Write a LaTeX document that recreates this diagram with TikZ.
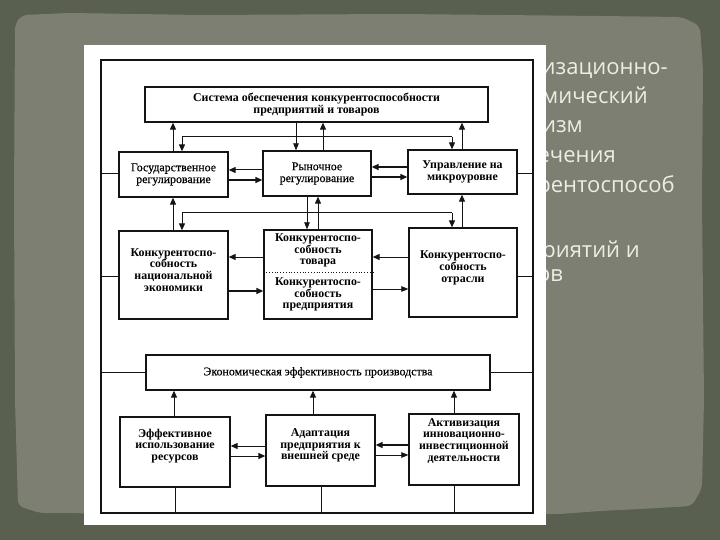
\documentclass[tikz,border=0pt]{standalone}
\usepackage{fontspec}
\setmainfont{Liberation Serif}
\newfontfamily\heavy{Liberation Serif}[FakeBold=0.4]
\newfontfamily\slidefont{Open Sans}
\usetikzlibrary{arrows.meta}
\definecolor{darkbg}{HTML}{596050}
\definecolor{panel}{HTML}{7C7F72}
\definecolor{slidetxt}{HTML}{ECEDE6}
\definecolor{ink}{HTML}{141414}
\newcommand{\dfs}{\fontsize{11.9}{11.8}\selectfont}
\tikzset{
  box/.style={draw=ink, line width=1.3pt, fill=white, inner sep=0pt, align=center, font=\dfs\heavy},
  boldbox/.style={box, font=\dfs\bfseries},
  boxtext/.style={inner sep=0pt, align=center, font=\dfs\bfseries},
  conn/.style={draw=ink, line width=1pt},
  arr/.style={draw=ink, line width=1pt, -{Triangle[length=7pt,width=6pt]}},
  tarr/.style={draw=ink, line width=0.7pt, -{Triangle[length=7pt,width=5.5pt]}},
  slideline/.style={anchor=base east, inner sep=0pt, text=slidetxt, font=\slidefont\fontsize{22}{24}\selectfont}
}
\begin{document}
\begin{tikzpicture}[x=1pt,y=-1pt]
\useasboundingbox (0,0) rectangle (720,540);
% slide background
\fill[darkbg] (0,0) rectangle (720,540);
\fill[panel, rounded corners=6pt] (15,24) -- (22,15) -- (70,13) -- (200,15) -- (400,14) -- (600,16) -- (682,17) -- (700,26) -- (703,70) -- (702,200) -- (704,400) -- (702,488) -- (692,506) -- (640,509) -- (600,511) -- (560,514) -- (420,515) -- (200,514) -- (40,513) -- (18,506) -- (15,400) -- (14,200) -- cycle;
% visible parts of the slide title (the rest is hidden behind the scan)
\node[slideline] (t1) at (668,75) {изационно-};
\node[slideline] (t2) at (648,104) {мический};
\node[slideline] (t3) at (583,133) {изм};
\node[slideline] (t4) at (616,163) {ечения};
\node[slideline] (t5) at (675,193) {рентоспособ};
\node[slideline] (t6) at (640,257) {риятий и};
\node[slideline] (t7) at (563,281) {ов};
% scanned image
\fill[white] (84,45) rectangle (546,525);
% outer frame
\node[draw=ink, line width=1.2pt, minimum width=432pt, minimum height=453pt, inner sep=0pt] (frame) at (317,286.5) {};
% boxes
\node[boldbox, minimum width=343pt, minimum height=35pt] (top) at (316.5,104.5) {Система обеспечения конкурентоспособности\\предприятий и товаров};
\node[box, minimum width=109pt, minimum height=45pt] (gr) at (173.5,174.5) {Государственное\\регулирование};
\node[box, minimum width=108pt, minimum height=45pt] (rr) at (317,173.5) {Рыночное\\регулирование};
\node[boldbox, minimum width=109pt, minimum height=44pt] (um) at (462.5,172) {Управление на\\микроуровне};
\node[box, minimum width=109pt, minimum height=88pt] (kne) at (173.5,275) {};
\node[boxtext] (kneT) at (173.5,270) {Конкурентоспо-\\собность\\национальной\\экономики};
\node[box, minimum width=108pt, minimum height=89pt] (ktp) at (318,274.5) {};
\node[boxtext] (kt) at (318,250.5) {Конкурентоспо-\\собность\\товара};
\node[boxtext] (kp) at (318,294.5) {Конкурентоспо-\\собность\\предприятия};
\node[box, minimum width=108pt, minimum height=89pt] (ko) at (463,272.5) {};
\node[boxtext] (koT) at (463,268) {Конкурентоспо-\\собность\\отрасли};
\node[box, minimum width=344pt, minimum height=35pt] (eep) at (318,372.5) {Экономическая эффективность производства};
\node[box, minimum width=110pt, minimum height=70pt] (eir) at (175,452) {};
\node[boxtext] (eirT) at (175,446) {Эффективное\\использование\\ресурсов};
\node[box, minimum width=109pt, minimum height=71pt] (ap) at (320.5,450.5) {};
\node[boxtext] (apT) at (320.5,445.5) {Адаптация\\предприятия к\\внешней среде};
\node[box, minimum width=110pt, minimum height=71pt] (aid) at (464,449.5) {};
\node[boxtext] (aidT) at (464,441) {Активизация\\инновационно-\\инвестиционной\\деятельности};
% dotted divider
\coordinate (dv) at (0,272);
\draw[ink, line width=0.8pt, dotted] (ktp.west |- dv) -- (ktp.east |- dv);
% helper coordinates
\coordinate (vA) at (173,0);
\coordinate (vB) at (182,0);
\coordinate (vC) at (296,0);
\coordinate (vD) at (323,0);
\coordinate (vE) at (452,0);
\coordinate (vF) at (462,0);
\coordinate (vG) at (307,0);
\coordinate (vH) at (318,0);
\coordinate (vI) at (174,0);
\coordinate (vJ) at (313,0);
\coordinate (vK) at (454,0);
\coordinate (vL) at (175,0);
\coordinate (vM) at (321,0);
\coordinate (j1a) at (182,137);
\coordinate (j1b) at (452,137);
\coordinate (j2a) at (182,213);
\coordinate (j2b) at (452,213);
% top <-> row 1
\draw[arr] (vA |- gr.north) -- (vA |- top.south);
\draw[conn] (j1a) -- (j1b);
\draw[arr] (j1a) -- (vB |- gr.north);
\draw[arr] (j1b) -- (vE |- um.north);
\draw[tarr] (vC |- top.south) -- (vC |- rr.north);
\draw[arr] (vD |- rr.north) -- (vD |- top.south);
\draw[arr] (vF |- um.north) -- (vF |- top.south);
% row 1 <-> row 2
\draw[arr] (vA |- kne.north) -- (vA |- gr.south);
\draw[conn] (j2a) -- (j2b);
\draw[arr] (j2a) -- (vB |- kne.north);
\draw[arr] (j2b) -- (vE |- ko.north);
\draw[tarr] (vG |- rr.south) -- (vG |- ktp.north);
\draw[arr] (vH |- ktp.north) -- (vH |- rr.south);
\draw[arr] (vF |- ko.north) -- (vF |- um.south);
% row 1 horizontals
\coordinate (h1) at (0,170);
\coordinate (h2) at (0,180);
\coordinate (h3) at (0,167);
\coordinate (h4) at (0,177);
\draw[arr] (rr.west |- h1) -- (gr.east |- h1);
\draw[arr, line width=1.4pt] (gr.east |- h2) -- (rr.west |- h2);
\draw[arr, line width=1.4pt] (um.west |- h3) -- (rr.east |- h3);
\draw[arr, line width=1.4pt] (rr.east |- h4) -- (um.west |- h4);
% row 2 horizontals
\coordinate (h5) at (0,257);
\coordinate (h6) at (0,291);
\coordinate (h8) at (0,289);
\draw[arr] (ktp.west |- h5) -- (kne.east |- h5);
\draw[arr, line width=1.4pt] (kne.east |- h6) -- (ktp.west |- h6);
\draw[arr] (ko.west |- h5) -- (ktp.east |- h5);
\draw[tarr] (ktp.east |- h8) -- (ko.west |- h8);
% row 3 horizontals
\coordinate (h9) at (0,446);
\coordinate (h10) at (0,456);
\coordinate (h11) at (0,445);
\coordinate (h12) at (0,455);
\draw[arr] (ap.west |- h9) -- (eir.east |- h9);
\draw[arr] (eir.east |- h10) -- (ap.west |- h10);
\draw[arr, line width=1.4pt] (aid.west |- h11) -- (ap.east |- h11);
\draw[tarr] (ap.east |- h12) -- (aid.west |- h12);
% row 3 -> economic efficiency
\draw[arr] (vI |- eir.north) -- (vI |- eep.south);
\draw[arr] (vJ |- ap.north) -- (vJ |- eep.south);
\draw[arr] (vK |- aid.north) -- (vK |- eep.south);
% frame stubs
\coordinate (s1) at (0,174);
\coordinate (s2) at (0,276);
\draw[conn] (frame.west |- s1) -- (gr.west |- s1);
\draw[conn] (um.east |- s1) -- (frame.east |- s1);
\draw[conn] (frame.west |- s2) -- (kne.west |- s2);
\draw[conn] (ko.east |- s2) -- (frame.east |- s2);
\draw[conn] (frame.west |- eep.west) -- (eep.west);
\draw[conn] (eep.east) -- (frame.east |- eep.east);
\draw[conn] (vL |- eir.south) -- (vL |- frame.south);
\draw[conn] (vM |- ap.south) -- (vM |- frame.south);
\draw[conn] (vK |- aid.south) -- (vK |- frame.south);
\end{tikzpicture}
\end{document}
